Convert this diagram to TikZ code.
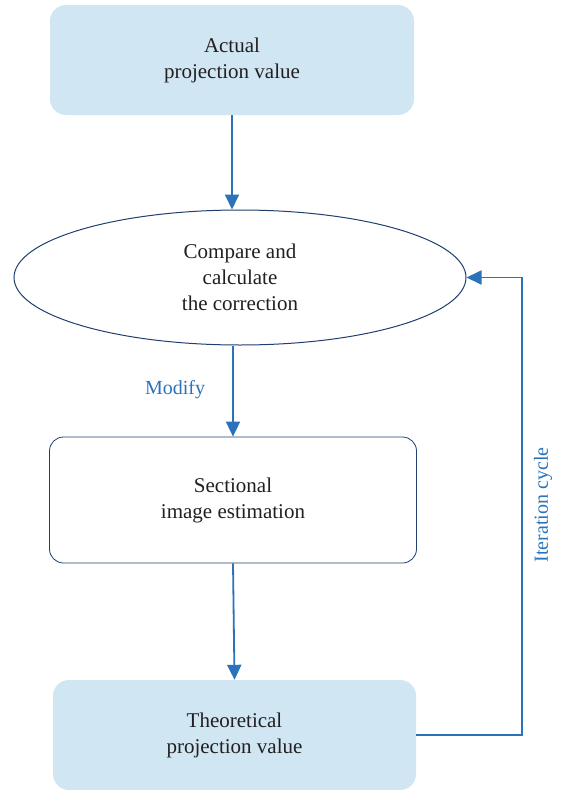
\documentclass[tikz,border=0pt]{standalone}
\usepackage{fontspec}
\setmainfont{Liberation Serif}
\usetikzlibrary{shapes.geometric,arrows.meta}
\definecolor{fillblue}{HTML}{D0E6F3}
\definecolor{arrowblue}{HTML}{2A73BA}
\definecolor{navy}{HTML}{1F3F6E}
\definecolor{txt}{HTML}{231F20}
\tikzset{
  bluebox/.style={rectangle, rounded corners=16pt, fill=fillblue, draw=none, minimum width=364pt, minimum height=110pt, align=center, font=\fontsize{21}{26}\selectfont, text=txt},
  whitebox/.style={rectangle, rounded corners=14pt, fill=white, draw=navy, line width=0.8pt, minimum width=367pt, minimum height=126pt, align=center, font=\fontsize{21}{26}\selectfont, text=txt},
  ell/.style={ellipse, draw=navy, line width=1pt, minimum width=452pt, minimum height=135pt, inner sep=0pt, align=center, font=\fontsize{21}{26}\selectfont, text=txt},
  conn/.style={draw=arrowblue, line width=1.8pt, -{Triangle[width=14pt,length=15pt]}},
  lbl/.style={text=arrowblue, font=\fontsize{20}{24}\selectfont}
}
\begin{document}
\begin{tikzpicture}[x=1pt,y=-1pt]
\useasboundingbox (0,0) rectangle (560,790);
\node[bluebox] (actual) at (232,60) {Actual\\projection value};
\node[ell] (cmp) at (240,277.5) {Compare and\\calculate\\the correction};
\node[whitebox] (sect) at (233,500) {Sectional\\image estimation};
\node[bluebox, minimum width=363pt] (theo) at (234.5,735) {Theoretical\\projection value};
\coordinate (c1) at (522,735);
\coordinate (c2) at (522,277.5);
\draw[conn] (actual.south) -- (actual.south |- cmp.north);
\draw[conn] (sect.north |- cmp.south) -- (sect.north);
\draw[conn] (sect.south) -- (theo.north);
\draw[conn] (theo.east) -- (c1) -- (c2) -- (cmp.east);
\node[lbl] (modify) at (175,390) {Modify};
\node[lbl, rotate=90] (iter) at (543,505) {Iteration cycle};
\end{tikzpicture}
\end{document}
